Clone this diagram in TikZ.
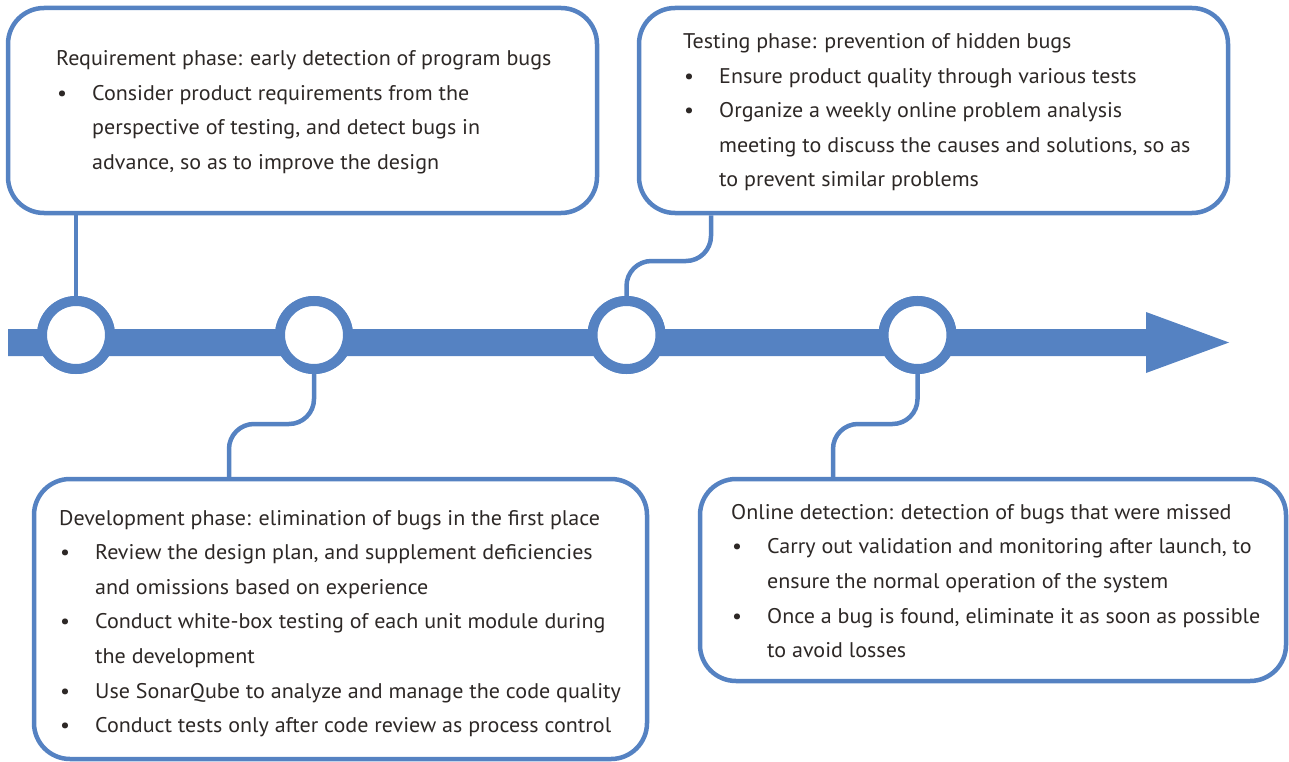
\documentclass[tikz,border=0pt]{standalone}
\usepackage{fontspec}
\setmainfont[FakeStretch=1.04]{PT Sans}
\definecolor{tlblue}{RGB}{85,130,194}
\definecolor{txt}{RGB}{45,40,38}
\newcommand\tlbul{\makebox[36pt][l]{\hspace{1pt}\textbullet}}
\newcommand\tlind{\hspace*{36pt}}
\begin{document}
\begin{tikzpicture}[x=1pt,y=-1pt,
  box/.style={draw=tlblue,line width=4.5pt,rounded corners=36pt,fill=white,inner sep=0pt,rectangle},
  ring/.style={circle,draw=tlblue,line width=10pt,fill=white,minimum size=68pt,inner sep=0pt},
  conn/.style={draw=tlblue,line width=4.5pt,rounded corners=25pt},
  txtnode/.style={anchor=base west,inner sep=0pt,text=txt,font=\fontsize{21.2}{34.6}\selectfont}]
\useasboundingbox (0,0) rectangle (1289,762);

% boxes
\node[box,minimum width=589pt,minimum height=205pt] (b1) at (302.5,110.5) {};
\node[box,minimum width=589pt,minimum height=205pt] (b2) at (933.5,110.5) {};
\node[box,minimum width=613pt,minimum height=280pt] (b3) at (340.5,619) {};
\node[box,minimum width=586pt,minimum height=202pt] (b4) at (993,580) {};

% rings
\node[ring] (c1) at (76,335) {};
\node[ring] (c2) at (314,335) {};
\node[ring] (c3) at (626.5,335) {};
\node[ring] (c4) at (917.5,335) {};

% connector bends
\coordinate (k2) at (229,424);
\coordinate (k3) at (711,261);
\coordinate (k4) at (833,424);

% connectors
\draw[conn] (c1.north) -- (c1.north |- b1.south);
\draw[conn] (c2.south) |- (k2) -- (k2 |- b3.north);
\draw[conn] (c3.north) |- (k3) -- (k3 |- b2.south);
\draw[conn] (c4.south) |- (k4) -- (k4 |- b4.north);

% timeline arrow
\fill[tlblue] (8,329) -- (1146,329) -- (1146,312) -- (1229,342.5) -- (1146,373) -- (1146,356) -- (8,356) -- cycle;

% redraw rings on top
\node[ring] at (c1) {};
\node[ring] at (c2) {};
\node[ring] at (c3) {};
\node[ring] at (c4) {};

% texts
\node[txtnode] (t1) at (56,65.7) {\begin{tabular}[t]{@{}l@{}}
Requirement phase: early detection of program bugs\\
\tlbul Consider product requirements from the\\
\tlind perspective of testing, and detect bugs in\\
\tlind advance, so as to improve the design
\end{tabular}};

\node[txtnode] (t2) at (683,48.5) {\begin{tabular}[t]{@{}l@{}}
Testing phase: prevention of hidden bugs\\
\tlbul Ensure product quality through various tests\\
\tlbul Organize a weekly online problem analysis\\
\tlind meeting to discuss the causes and solutions, so as\\
\tlind to prevent similar problems
\end{tabular}};

\node[txtnode] (t3) at (59,525) {\begin{tabular}[t]{@{}l@{}}
Development phase: elimination of bugs in the first place\\
\tlbul Review the design plan, and supplement deficiencies\\
\tlind and omissions based on experience\\
\tlbul Conduct white-box testing of each unit module during\\
\tlind the development\\
\tlbul Use SonarQube to analyze and manage the code quality\\
\tlbul Conduct tests only after code review as process control
\end{tabular}};

\node[txtnode] (t4) at (731,519.3) {\begin{tabular}[t]{@{}l@{}}
Online detection: detection of bugs that were missed\\
\tlbul Carry out validation and monitoring after launch, to\\
\tlind ensure the normal operation of the system\\
\tlbul Once a bug is found, eliminate it as soon as possible\\
\tlind to avoid losses
\end{tabular}};
\end{tikzpicture}
\end{document}
